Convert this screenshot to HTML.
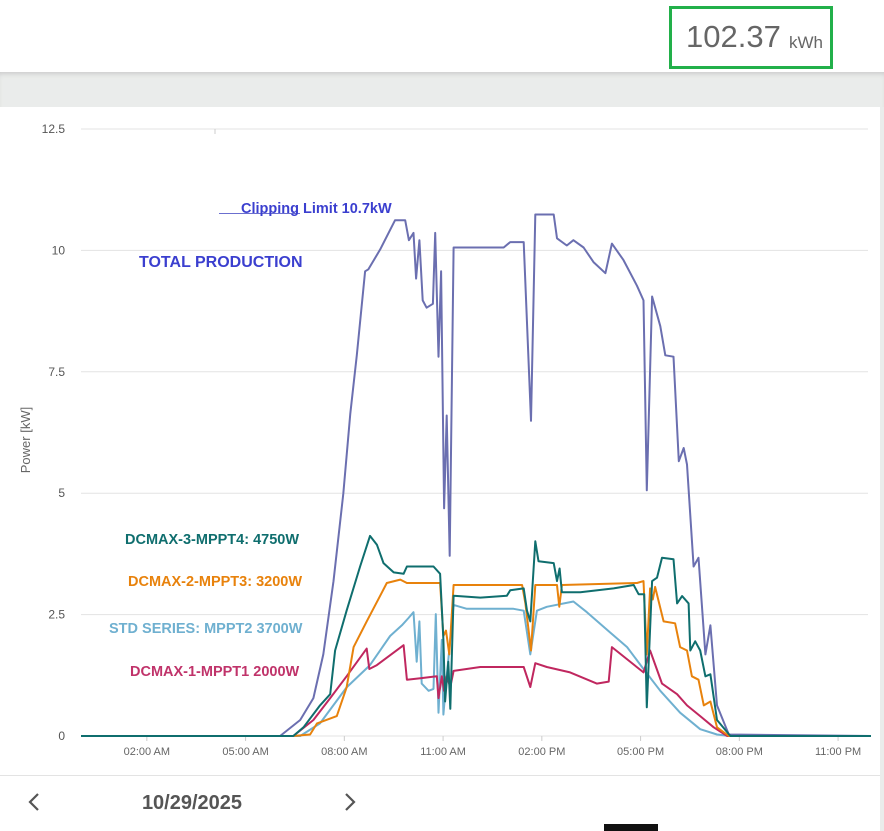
<!DOCTYPE html>
<html><head><meta charset="utf-8">
<style>
html,body{margin:0;padding:0;width:884px;height:831px;overflow:hidden;background:#fff;font-family:"Liberation Sans",Arial,sans-serif;}
#hdr{position:absolute;left:0;top:0;width:884px;height:72px;background:#fff;}
#kwh{position:absolute;left:669px;top:6px;width:158px;height:57px;border:3px solid #22b04a;box-sizing:content-box;}
#kwh span.v{position:absolute;left:14px;top:10px;font-size:31px;color:#666;}
#kwh span.u{position:absolute;left:117px;top:24px;font-size:17px;color:#666;}
#band{position:absolute;left:0;top:72px;width:884px;height:35px;background:#eaeceb;box-shadow:inset 0 4px 5px -2px #ccc;}
#panel{position:absolute;left:0;top:107px;width:880px;height:724px;background:#fff;}
#edge{position:absolute;left:880px;top:107px;width:4px;height:724px;background:#eaeceb;}
svg{position:absolute;left:0;top:0;}
</style></head>
<body>
<div id="hdr">
  <div id="kwh"><span class="v">102.37</span><span class="u">kWh</span></div>
</div>
<div id="band"></div>
<div id="panel"></div>
<div id="edge"></div>
<svg id="chart" width="884" height="831"></svg>
<script>
const yTicks=[0,2.5,5,7.5,10,12.5];
const yTickLabels=["0","2.5","5","7.5","10","12.5"];
const xTicks=[2,5,8,11,14,17,20,23];
const xTickLabels=["02:00 AM","05:00 AM","08:00 AM","11:00 AM","02:00 PM","05:00 PM","08:00 PM","11:00 PM"];
const totalH=[0,6.05,6.66,7.06,7.36,7.67,7.97,8.18,8.38,8.63,8.73,9.09,9.54,9.85,9.96,10.1,10.18,10.28,10.38,10.5,10.69,10.76,10.86,10.94,11.03,11.11,11.2,11.32,12.13,12.84,13.04,13.45,13.67,13.8,14.36,14.46,14.76,14.96,15.27,15.57,15.93,16.13,16.48,16.89,17.09,17.19,17.35,17.6,17.75,18.0,18.16,18.31,18.41,18.61,18.76,18.97,19.12,19.32,19.68,24];
const totalV=[0,0,0.33,0.78,1.68,3.19,4.99,6.64,7.84,9.57,9.61,10.02,10.62,10.62,10.21,10.36,9.42,10.21,8.97,8.82,8.9,10.36,7.81,9.57,4.69,6.6,3.71,10.06,10.06,10.06,10.17,10.17,6.49,10.74,10.74,10.25,10.1,10.21,10.06,9.76,9.53,10.14,9.8,9.27,8.97,5.06,9.05,8.44,7.84,7.81,5.66,5.93,5.59,3.49,3.67,1.68,2.28,0.63,0.03,0];
const mppt4H=[0,6.45,6.76,7.26,7.57,7.72,8.07,8.48,8.78,8.99,9.19,9.5,9.8,9.9,10.71,10.91,11.01,11.06,11.16,11.22,11.32,12.13,12.94,13.04,13.45,13.55,13.65,13.8,13.9,14.36,14.46,14.54,14.61,15.17,16.18,16.79,16.94,17.11,17.19,17.35,17.5,17.65,18.0,18.11,18.26,18.46,18.51,18.66,18.81,18.97,19.12,19.32,19.73,24];
const mppt4V=[0,0,0.18,0.63,0.86,1.76,2.58,3.49,4.12,3.94,3.56,3.37,3.34,3.49,3.49,3.34,1.98,0.71,1.53,0.56,2.89,2.85,2.89,3.0,3.04,2.58,2.36,4.01,3.6,3.56,3.19,3.45,2.96,2.96,3.04,3.11,2.92,2.92,0.59,3.19,3.26,3.67,3.64,2.73,2.88,2.73,1.76,1.95,1.76,1.23,1.27,0.33,0,0];
const mppt3H=[0,6.45,6.96,7.17,7.77,8.07,8.28,8.68,9.09,9.29,9.7,9.9,10.91,11.01,11.09,11.19,11.32,13.4,13.5,13.67,13.8,14.46,14.53,14.61,16.89,17.09,17.19,17.29,17.37,17.44,17.7,18.05,18.2,18.41,18.56,18.76,18.92,19.12,19.32,19.68,24];
const mppt3V=[0,0,0.03,0.26,0.41,1.0,1.83,2.36,2.89,3.15,3.22,3.15,3.15,2.06,2.17,1.68,3.11,3.11,2.73,1.76,3.11,3.11,2.66,3.11,3.15,3.19,1.68,3.04,2.81,3.07,2.36,2.32,1.83,1.76,1.23,1.16,0.63,0.71,0.18,0,0];
const mppt2H=[0,6.66,7.26,8.07,8.78,9.39,9.75,9.95,10.1,10.2,10.28,10.35,10.56,10.71,10.78,10.86,10.96,11.01,11.11,11.32,11.72,13.14,13.45,13.65,13.85,14.15,14.96,15.37,16.08,16.59,17.09,17.6,18.2,18.81,19.32,19.7,24];
const mppt2V=[0,0,0.26,1.0,1.46,2.06,2.28,2.43,2.55,1.53,2.36,1.08,0.93,0.97,2.51,0.48,1.98,0.44,1.23,2.7,2.62,2.62,2.58,1.68,2.58,2.66,2.77,2.55,2.13,1.83,1.38,0.93,0.48,0.14,0.03,0,0];
const mppt1H=[0,6.45,7.06,7.57,8.07,8.68,8.76,8.99,9.8,9.9,10.31,10.81,10.86,10.96,11.03,11.11,11.22,11.32,12.13,13.45,13.65,13.8,14.15,14.86,15.67,16.03,16.13,17.09,17.29,17.65,18.11,18.41,18.81,19.22,19.63,24];
const mppt1V=[0,0,0.33,0.78,1.23,1.8,1.38,1.46,1.87,1.16,1.19,1.23,0.78,1.23,0.93,1.23,1.01,1.34,1.42,1.42,1.01,1.5,1.42,1.31,1.08,1.12,1.83,1.31,1.76,1.08,0.86,0.63,0.41,0.18,0,0];

const NS="http://www.w3.org/2000/svg";
const svg=document.getElementById('chart');
const X0=81,X1=871,Y0=736,Y1=129;
function xs(h){return X0+(X1-X0)*h/24;}
function ys(v){return Y0-(Y0-Y1)*v/12.5;}
function el(t,a,parent){const e=document.createElementNS(NS,t);for(const k in a)e.setAttribute(k,a[k]);(parent||svg).appendChild(e);return e;}

yTicks.forEach((t,i)=>{
  const g=el('line',{x1:X0,x2:868,y1:ys(t),y2:ys(t),stroke:'#e3e3e3','stroke-width':1});
  
  
  const tx=el('text',{x:65,y:ys(t)+4,'text-anchor':'end','font-size':12,fill:'#555','font-family':'Liberation Sans, sans-serif'});
  tx.textContent=yTickLabels[i];
  
  
});
const smallTick=el('line',{x1:215,x2:215,y1:129,y2:134,stroke:'#ccc'});


xTicks.forEach((t,i)=>{
  const l=el('line',{x1:xs(t),x2:xs(t),y1:Y0,y2:Y0+5,stroke:'#ccc'});
  
  
  const tx=el('text',{x:xs(t),y:755,'text-anchor':'middle','font-size':11,fill:'#666','font-family':'Liberation Sans, sans-serif'});
  tx.textContent=xTickLabels[i];
  
  
});
const yt=el('text',{x:0,y:0,transform:'translate(30,440) rotate(-90)','text-anchor':'middle','font-size':13,fill:'#666','font-family':'Liberation Sans, sans-serif'});
yt.textContent='Power [kW]';



function series(H,V,color,name){
  const d=H.map((h,i)=>(i?'L':'M')+xs(h).toFixed(1)+','+ys(V[i]).toFixed(1)).join(' ');
  const p=el('path',{d:d,fill:'none',stroke:color,'stroke-width':2,'stroke-linejoin':'round'});
  
  
}
series(totalH,totalV,'#6b6fb0','total-production-line');
series(mppt2H,mppt2V,'#6fb0d0','std-series-mppt2-line');
series(mppt1H,mppt1V,'#c0275f','dcmax1-mppt1-line');
series(mppt3H,mppt3V,'#e8820c','dcmax2-mppt3-line');
series(mppt4H,mppt4V,'#0f6e6e','dcmax3-mppt4-line');

function label(x,y,txt,color,name,size){
  const t=el('text',{x:x,y:y,'font-size':size||14,'font-weight':'bold',fill:color,'font-family':'Liberation Sans, sans-serif'});
  t.textContent=txt;
  
  
}
const cl=el('line',{x1:219,x2:300,y1:213.5,y2:213.5,stroke:'#6b6fcf','stroke-width':1});


label(241,213,'Clipping Limit 10.7kW','#3b3fcf','clipping-limit-label',14.5);
label(139,267,'TOTAL PRODUCTION','#3b3fcf','total-production-label',16);
label(125,544,'DCMAX-3-MPPT4: 4750W','#0f6e6e','dcmax3-label',14.5);
label(128,586,'DCMAX-2-MPPT3: 3200W','#e8820c','dcmax2-label',14.5);
label(109,633,'STD SERIES: MPPT2 3700W','#6fb0d0','std-series-label',14.5);
label(130,676,'DCMAX-1-MPPT1 2000W','#c0336a','dcmax1-label',14.5);

const bl=el('line',{x1:0,x2:880,y1:775.5,y2:775.5,stroke:'#e3e3e3'});


const prev=el('path',{d:'M38,794 L30,802 L38,810',fill:'none',stroke:'#555','stroke-width':2.2});


const next=el('path',{d:'M346,794 L354,802 L346,810',fill:'none',stroke:'#555','stroke-width':2.2});


const dt=el('text',{x:192,y:809,'text-anchor':'middle','font-size':20,'font-weight':'bold',fill:'#555','font-family':'Liberation Sans, sans-serif'});
dt.textContent='10/29/2025';


const bar=el('rect',{x:604,y:824,width:54,height:7,fill:'#111'});


</script>
</body></html>
